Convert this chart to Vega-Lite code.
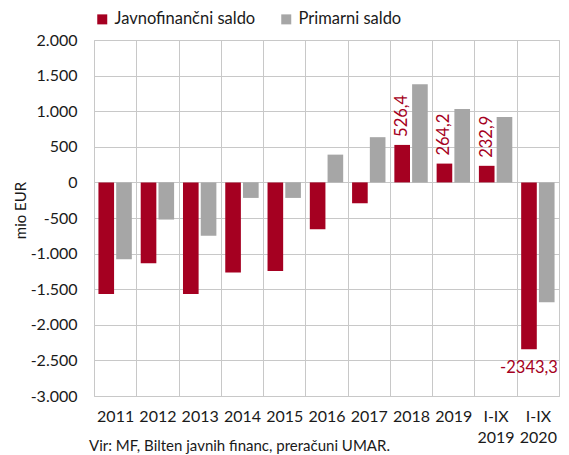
{
  "$schema": "https://vega.github.io/schema/vega-lite/v6.json",
  "width": 465,
  "height": 356,
  "autosize": {"type": "none"},
  "padding": {"left": 94, "top": 40, "right": 10, "bottom": 59},
  "config": {
    "locale": {"number": {"decimal": ",", "thousands": ".", "grouping": [3], "currency": ["", " €"], "minus": "-"}},
    "font": "Lato",
    "view": {"stroke": "#c8c8c8", "strokeWidth": 1},
    "axis": {"gridColor": "#c8c8c8", "gridWidth": 1, "labelColor": "#1a1a1a", "labelFont": "Lato", "labelFontSize": 16}
  },
  "title": {
    "text": "Vir: MF, Bilten javnih financ, preračuni UMAR.",
    "orient": "bottom",
    "anchor": "start",
    "frame": "group",
    "font": "Lato",
    "fontSize": 15,
    "fontWeight": "normal",
    "color": "#1a1a1a",
    "offset": -6,
    "dx": -5
  },
  "data": {
    "values": [
      {"year": "2011", "series": "Javnofinančni saldo", "value": -1566},
      {"year": "2011", "series": "Primarni saldo", "value": -1079},
      {"year": "2012", "series": "Javnofinančni saldo", "value": -1135},
      {"year": "2012", "series": "Primarni saldo", "value": -522},
      {"year": "2013", "series": "Javnofinančni saldo", "value": -1566},
      {"year": "2013", "series": "Primarni saldo", "value": -751},
      {"year": "2014", "series": "Javnofinančni saldo", "value": -1266},
      {"year": "2014", "series": "Primarni saldo", "value": -218},
      {"year": "2015", "series": "Javnofinančni saldo", "value": -1243},
      {"year": "2015", "series": "Primarni saldo", "value": -218},
      {"year": "2016", "series": "Javnofinančni saldo", "value": -658},
      {"year": "2016", "series": "Primarni saldo", "value": 390},
      {"year": "2017", "series": "Javnofinančni saldo", "value": -293},
      {"year": "2017", "series": "Primarni saldo", "value": 635},
      {"year": "2018", "series": "Javnofinančni saldo", "value": 526.4},
      {"year": "2018", "series": "Primarni saldo", "value": 1379},
      {"year": "2019", "series": "Javnofinančni saldo", "value": 264.2},
      {"year": "2019", "series": "Primarni saldo", "value": 1032},
      {"year": "I-IX 2019", "series": "Javnofinančni saldo", "value": 232.9},
      {"year": "I-IX 2019", "series": "Primarni saldo", "value": 920},
      {"year": "I-IX 2020", "series": "Javnofinančni saldo", "value": -2343.3},
      {"year": "I-IX 2020", "series": "Primarni saldo", "value": -1683}
    ]
  },
  "encoding": {
    "x": {
      "field": "year",
      "type": "nominal",
      "sort": null,
      "scale": {"paddingInner": 0, "paddingOuter": 0},
      "axis": {
        "title": null,
        "tickBand": "extent",
        "ticks": false,
        "domain": false,
        "grid": true,
        "labelAngle": 0,
        "labelPadding": 12,
        "labelExpr": "split(datum.label, ' ')",
        "labelLineHeight": 21,
        "labelBaseline": "top"
      }
    },
    "xOffset": {
      "field": "series",
      "type": "nominal",
      "scale": {"paddingInner": 0.12, "paddingOuter": 0.25}
    },
    "y": {
      "field": "value",
      "type": "quantitative",
      "scale": {"domain": [-3000, 2000], "nice": false},
      "axis": {
        "values": [-3000, -2500, -2000, -1500, -1000, -500, 0, 500, 1000, 1500, 2000],
        "format": ",d",
        "domain": false,
        "ticks": false,
        "labelPadding": 17,
        "title": "mio EUR",
        "titleFont": "Lato",
        "titleFontSize": 15,
        "titleFontWeight": "normal",
        "titleColor": "#1a1a1a",
        "titleAngle": 270,
        "titleBaseline": "middle",
        "titleAlign": "center",
        "titleX": -74,
        "titleY": 170
      }
    }
  },
  "layer": [
    {
      "mark": {"type": "bar"},
      "encoding": {
        "color": {
          "field": "series",
          "type": "nominal",
          "scale": {"domain": ["Javnofinančni saldo", "Primarni saldo"], "range": ["#A50021", "#A6A6A6"]},
          "legend": {
            "title": null,
            "orient": "top",
            "direction": "horizontal",
            "symbolType": "square",
            "symbolSize": 100,
            "symbolStrokeWidth": 0,
            "labelFont": "Lato",
            "labelFontSize": 16.5,
            "labelColor": "#1a1a1a",
            "columnPadding": 22,
            "labelOffset": 4,
            "offset": 12
          }
        }
      }
    },
    {
      "transform": [{"filter": "datum.series == 'Javnofinančni saldo' && datum.value > 0 && datum.year != '2017'"}],
      "mark": {"type": "text", "angle": 270, "align": "left", "baseline": "middle", "dx": 8, "fontSize": 16.5, "color": "#A50021"},
      "encoding": {
        "text": {"field": "value", "type": "quantitative", "format": ".1f"}
      }
    },
    {
      "transform": [{"filter": "datum.series == 'Javnofinančni saldo' && datum.year == 'I-IX 2020'"}],
      "mark": {"type": "text", "align": "center", "baseline": "top", "dy": 11, "fontSize": 16.5, "color": "#A50021"},
      "encoding": {
        "text": {"field": "value", "type": "quantitative", "format": ".1f"}
      }
    }
  ]
}
